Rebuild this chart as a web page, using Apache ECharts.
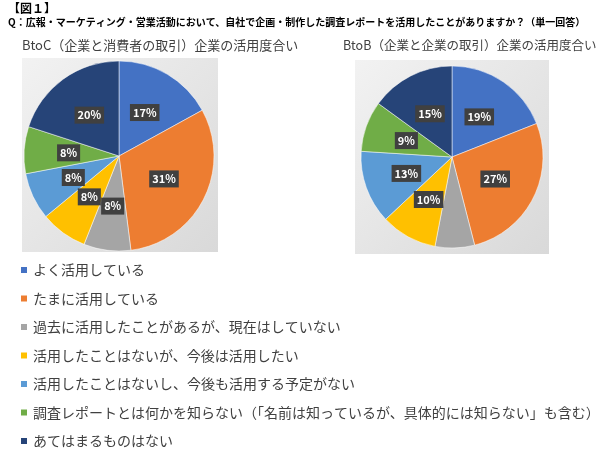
<!DOCTYPE html>
<html><head><meta charset="utf-8">
<script src="https://cdn.jsdelivr.net/npm/echarts@6/dist/echarts.min.js"></script>
<style>body{margin:0}#main{width:600px;height:459px}</style>
</head><body><div id="main"></div>
<script>
var categories = ['よく活用している', 'たまに活用している', '過去に活用したことがあるが、現在はしていない',
  '活用したことはないが、今後は活用したい', '活用したことはないし、今後も活用する予定がない',
  '調査レポートとは何かを知らない（「名前は知っているが、具体的には知らない」も含む）', 'あてはまるものはない'];
var btocValues = [17, 31, 8, 8, 8, 8, 20];
var btobValues = [19, 27, 7, 10, 13, 9, 15];
var colors = ['#4472C4', '#ED7D31', '#A5A5A5', '#FFC000', '#5B9BD5', '#70AD47', '#264478'];

var myChart = echarts.init(document.getElementById('main'));
var font = '"Noto Sans CJK JP", sans-serif';

function mkData(vals) {
    return vals.map(function (v, i) { return {name: categories[i], value: v}; });
}
function mkPie(vals, center, r) {
    return {
        type: 'pie', center: center, radius: r, startAngle: 90, clockwise: true,
        data: mkData(vals), animation: false, silent: true,
        itemStyle: {borderColor: '#fff', borderWidth: 0.5},
        label: {
            position: 'inside', formatter: '{c}%', color: '#fff', fontWeight: 'bold',
            fontSize: 11, fontFamily: font, backgroundColor: '#404040', padding: [3, 3]
        },
        labelLine: {show: false}
    };
}
var bg = {type: 'linear', x: 0, y: 0, x2: 1, y2: 1, colorStops: [{offset: 0, color: '#f2f2f2'}, {offset: 1, color: '#d9d9d9'}]};

option = {
    color: colors,
    textStyle: {fontFamily: font},
    graphic: [
        {type: 'text', left: 8, top: 2, style: {text: '【図１】', font: 'bold 12px ' + font, fill: '#000'}},
        {type: 'text', left: 8, top: 17, style: {text: 'Q：広報・マーケティング・営業活動において、自社で企画・制作した調査レポートを活用したことがありますか？（単一回答）', font: 'bold 10px ' + font, fill: '#000'}},
        {type: 'text', left: 22, top: 39, style: {text: 'BtoC（企業と消費者の取引）企業の活用度合い', font: '13px ' + font, fill: '#404040'}},
        {type: 'text', left: 343, top: 39, style: {text: 'BtoB（企業と企業の取引）企業の活用度合い', font: '12.5px ' + font, fill: '#404040'}},
        {type: 'rect', shape: {x: 22, y: 58, width: 196, height: 194}, style: {fill: bg}, z: -1},
        {type: 'rect', shape: {x: 355, y: 60, width: 194, height: 194}, style: {fill: bg}, z: -1}
    ],
    legend: {
        data: categories, orient: 'vertical', left: 14, top: 258, itemGap: 14.5,
        icon: 'rect', itemWidth: 8, itemHeight: 8,
        textStyle: {fontSize: 14, color: '#404040', fontFamily: font}
    },
    series: [
        mkPie(btocValues, [119, 156], 95),
        mkPie(btobValues, [452, 157], 91)
    ]
};
myChart.setOption(option);
</script></body></html>
